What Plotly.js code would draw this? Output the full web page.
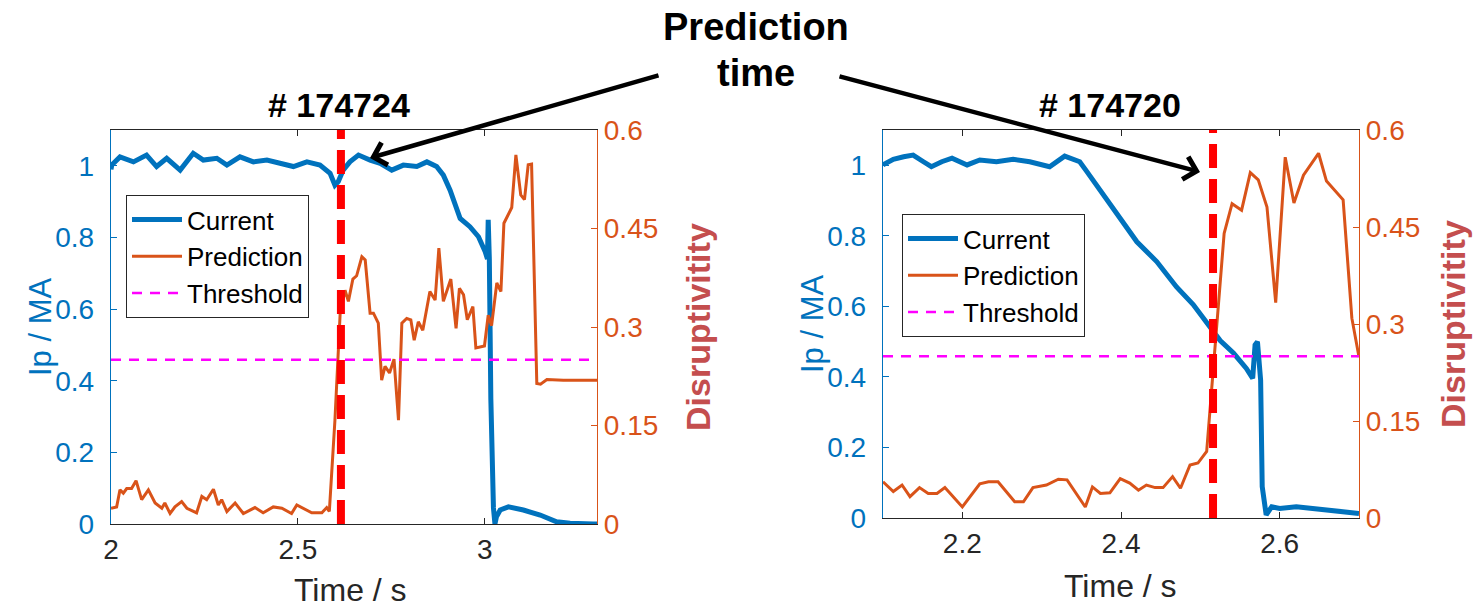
<!DOCTYPE html>
<html><head><meta charset="utf-8">
<script src="https://cdn.plot.ly/plotly-3.0.1.min.js"></script>
<style>html,body{margin:0;padding:0;background:#fff}#chart{width:1474px;height:608px}</style>
</head><body><div id="chart"></div><script>
// ---------- Shot #174724 ----------
const shotA_label = '# 174724';
const shotA_time = [2.0,2.002,2.024,2.060,2.095,2.122,2.149,2.185,2.220,2.247,2.283,2.310,2.345,2.381,2.417,2.452,2.488,2.524,2.559,2.586,2.599,2.608,2.621,2.639,2.662,2.693,2.720,2.751,2.782,2.818,2.845,2.871,2.889,2.907,2.920,2.934,2.960,2.983,3.001,3.007,3.009,3.012,3.016,3.019,3.023,3.027,3.031,3.041,3.063,3.103,3.148,3.192,3.228,3.29,3.3];
const shotA_current = [0.99,1.002,1.025,1.011,1.030,0.998,1.021,0.988,1.035,1.016,1.021,1.002,1.025,1.011,1.016,1.007,0.998,1.011,1.002,0.979,0.946,0.956,0.988,1.011,1.030,1.016,1.007,0.988,1.002,0.998,1.011,0.998,0.974,0.932,0.895,0.853,0.830,0.802,0.760,0.740,0.849,0.740,0.350,0.100,0.045,0.0,0.020,0.039,0.048,0.039,0.025,0.006,0.002,0.0,0.0];
const shotA_predTime = [2.0,2.015,2.024,2.033,2.042,2.055,2.067,2.082,2.100,2.118,2.136,2.144,2.158,2.171,2.189,2.203,2.229,2.243,2.256,2.274,2.287,2.296,2.310,2.332,2.354,2.385,2.407,2.434,2.457,2.483,2.497,2.514,2.537,2.564,2.577,2.584,2.599,2.613,2.626,2.635,2.647,2.657,2.671,2.680,2.693,2.702,2.715,2.724,2.733,2.745,2.757,2.769,2.778,2.791,2.802,2.811,2.822,2.834,2.853,2.867,2.877,2.889,2.909,2.923,2.932,2.943,2.953,2.968,2.976,2.999,3.009,3.018,3.032,3.043,3.051,3.072,3.083,3.096,3.106,3.116,3.125,3.139,3.149,3.166,3.21,3.3];
const shotA_pred = [0.024,0.026,0.052,0.047,0.054,0.054,0.066,0.037,0.052,0.032,0.024,0.032,0.016,0.026,0.034,0.024,0.017,0.042,0.037,0.053,0.029,0.037,0.019,0.032,0.016,0.025,0.017,0.026,0.024,0.016,0.029,0.024,0.017,0.017,0.025,0.019,0.158,0.321,0.356,0.339,0.373,0.378,0.407,0.402,0.321,0.321,0.306,0.219,0.240,0.230,0.251,0.158,0.306,0.313,0.311,0.280,0.308,0.295,0.354,0.341,0.420,0.339,0.373,0.298,0.359,0.349,0.311,0.331,0.268,0.271,0.318,0.302,0.367,0.354,0.458,0.482,0.562,0.501,0.494,0.547,0.548,0.214,0.213,0.220,0.219,0.219];
const shotA_range = [2.0, 3.3];
const shotA_xticks = [2, 2.5, 3];
const shotA_predictionTime = 2.615;

// ---------- Shot #174720 ----------
const shotB_label = '# 174720';
const shotB_time = [2.100,2.113,2.126,2.138,2.151,2.161,2.174,2.187,2.206,2.222,2.243,2.264,2.285,2.310,2.329,2.348,2.357,2.378,2.403,2.420,2.445,2.470,2.491,2.512,2.525,2.542,2.558,2.566,2.569,2.572,2.576,2.578,2.583,2.590,2.600,2.621,2.642,2.663,2.684,2.700];
const shotB_current = [1.001,1.017,1.024,1.029,1.010,0.996,1.010,1.020,1.001,1.015,1.010,1.017,1.010,0.996,1.026,1.010,0.982,0.916,0.840,0.783,0.727,0.655,0.605,0.545,0.503,0.467,0.424,0.396,0.491,0.500,0.391,0.089,0.009,0.032,0.027,0.032,0.027,0.023,0.018,0.013];
const shotB_predTime = [2.100,2.113,2.124,2.134,2.146,2.157,2.168,2.178,2.200,2.222,2.233,2.245,2.266,2.277,2.289,2.306,2.321,2.332,2.355,2.364,2.374,2.386,2.399,2.411,2.422,2.432,2.443,2.453,2.465,2.475,2.487,2.497,2.508,2.514,2.521,2.530,2.540,2.552,2.563,2.573,2.584,2.595,2.607,2.618,2.630,2.649,2.659,2.680,2.691,2.700];
const shotB_pred = [0.056,0.041,0.051,0.033,0.047,0.038,0.038,0.047,0.017,0.053,0.056,0.056,0.025,0.025,0.047,0.051,0.060,0.059,0.017,0.048,0.038,0.039,0.061,0.054,0.043,0.051,0.047,0.047,0.064,0.046,0.082,0.085,0.103,0.193,0.306,0.440,0.486,0.476,0.534,0.523,0.481,0.333,0.558,0.487,0.530,0.564,0.521,0.492,0.309,0.249];
const shotB_range = [2.1, 2.7];
const shotB_xticks = [2.2, 2.4, 2.6];
const shotB_predictionTime = 2.516;

// ---------- shared ----------
const threshold = 0.25;
const ipTicks = [0, 0.2, 0.4, 0.6, 0.8, 1];
const ipTickText = ['0', '0.2', '0.4', '0.6', '0.8', '1'];
const disTicks = [0, 0.15, 0.3, 0.45, 0.6];
const disTickText = ['0', '0.15', '0.3', '0.45', '0.6'];
const seriesNames = ['Current', 'Prediction', 'Threshold'];

const BLUE = '#0072BD', ORANGE = '#D95319', MAG = '#FF00FF', RED = '#FF0000', DARK = '#262626';
const FONT = 'Liberation Sans, Arial, Helvetica, sans-serif';

function traces(t, cur, pt, pr, rng, xa, ya, ya2, lg) {
  return [
    {x: t, y: cur, xaxis: xa, yaxis: ya, type: 'scatter', mode: 'lines', name: seriesNames[0], legend: lg,
     line: {color: BLUE, width: 5}},
    {x: pt, y: pr, xaxis: xa, yaxis: ya2, type: 'scatter', mode: 'lines', name: seriesNames[1], legend: lg,
     line: {color: ORANGE, width: 3}},
    {x: rng, y: [threshold, threshold], xaxis: xa, yaxis: ya2, type: 'scatter', mode: 'lines', name: seriesNames[2], legend: lg,
     line: {color: MAG, width: 2.5, dash: '10px,8px'}}
  ];
}

const data = [
  ...traces(shotA_time, shotA_current, shotA_predTime, shotA_pred, shotA_range, 'x', 'y', 'y2', 'legend'),
  ...traces(shotB_time, shotB_current, shotB_predTime, shotB_pred, shotB_range, 'x2', 'y3', 'y4', 'legend2')
];

function xax(dom, rng, tv, anchor) {
  return {domain: dom, range: rng, anchor: anchor, tickvals: tv, ticks: 'inside', ticklen: 6, tickcolor: DARK,
    showline: true, linecolor: DARK, linewidth: 1.2, mirror: 'ticks', showgrid: false, zeroline: false,
    tickfont: {family: FONT, size: 28, color: DARK}};
}
function yleft(dom, anchor) {
  return {domain: dom, range: [0, 1.1], anchor: anchor, tickvals: ipTicks, ticktext: ipTickText, ticks: 'inside', ticklen: 6,
    tickcolor: BLUE, showline: true, linecolor: BLUE, linewidth: 1.2, showgrid: false, zeroline: false,
    ticklabelstandoff: 10, tickfont: {family: FONT, size: 28, color: BLUE}};
}
function yright(over, anchor) {
  return {range: [0, 0.6], overlaying: over, side: 'right', anchor: anchor, tickvals: disTicks, ticktext: disTickText,
    ticks: 'inside', ticklen: 6, tickcolor: ORANGE, showline: true, linecolor: ORANGE, linewidth: 1.2,
    showgrid: false, zeroline: false, tickfont: {family: FONT, size: 28, color: ORANGE}};
}

const W = 1474, H = 608;
const px = v => v / W, py = v => 1 - v / H;

const legendStyle = (x, y) => ({x: x, y: y, xanchor: 'left', yanchor: 'top', bgcolor: '#ffffff', bordercolor: DARK,
  borderwidth: 1, itemwidth: 50, tracegroupgap: 0,
  font: {family: FONT, size: 26, color: '#000'}});

function txt(text, x, y, size, color, extra) {
  return Object.assign({text: text, xref: 'paper', yref: 'paper', x: px(x), y: py(y), xanchor: 'center', yanchor: 'middle',
    showarrow: false, font: {family: FONT, size: size, color: color}}, extra || {});
}
function arrow(x, y, ax, ay) {
  return {text: '', xref: 'paper', yref: 'paper', x: px(x), y: py(y), ax: ax, ay: ay, showarrow: true,
    arrowhead: 4, arrowsize: 1, arrowwidth: 4.5, arrowcolor: '#000'};
}

const layout = {
  width: W, height: H, margin: {l: 0, r: 0, t: 0, b: 0},
  paper_bgcolor: '#ffffff', plot_bgcolor: '#ffffff', showlegend: true,
  xaxis: xax([px(111), px(597)], shotA_range, shotA_xticks, 'y'),
  yaxis: yleft([py(524), py(130)], 'x'),
  yaxis2: yright('y', 'x'),
  xaxis2: xax([px(883), px(1359)], shotB_range, shotB_xticks, 'y3'),
  yaxis3: yleft([py(518), py(130)], 'x2'),
  yaxis4: yright('y3', 'x2'),
  legend: legendStyle(px(126), py(195)),
  legend2: legendStyle(px(902), py(214)),
  shapes: [
    {type: 'line', xref: 'x', yref: 'y domain', x0: shotA_predictionTime, x1: shotA_predictionTime, y0: 0, y1: 1,
     line: {color: RED, width: 8, dash: '24px,11px'}},
    {type: 'line', xref: 'x2', yref: 'y3 domain', x0: shotB_predictionTime, x1: shotB_predictionTime, y0: 0, y1: 1,
     line: {color: RED, width: 8, dash: '24px,11px'}}
  ],
  annotations: [
    txt('<b>Prediction</b>', 756, 27, 38, '#000'),
    txt('<b>time</b>', 756, 73, 38, '#000'),
    txt('<b>' + shotA_label + '</b>', 339, 105, 34, '#000'),
    txt('<b>' + shotB_label + '</b>', 1110, 105, 34, '#000'),
    arrow(370, 158, 290, -83),
    arrow(1200, 172, -362, -96),
    txt('Ip / MA', 40, 327, 31, BLUE, {textangle: -90}),
    txt('Ip / MA', 812, 324, 31, BLUE, {textangle: -90}),
    txt('<b>Disruptivitity</b>', 698, 327, 34, '#C44E4E', {textangle: -90}),
    txt('<b>Disruptivitity</b>', 1453, 324, 34, '#C44E4E', {textangle: -90}),
    txt('Time / s', 350, 590, 32, DARK),
    txt('Time / s', 1120, 586, 32, DARK)
  ]
};

Plotly.newPlot('chart', data, layout, {displayModeBar: false, staticPlot: true});
</script></body></html>
